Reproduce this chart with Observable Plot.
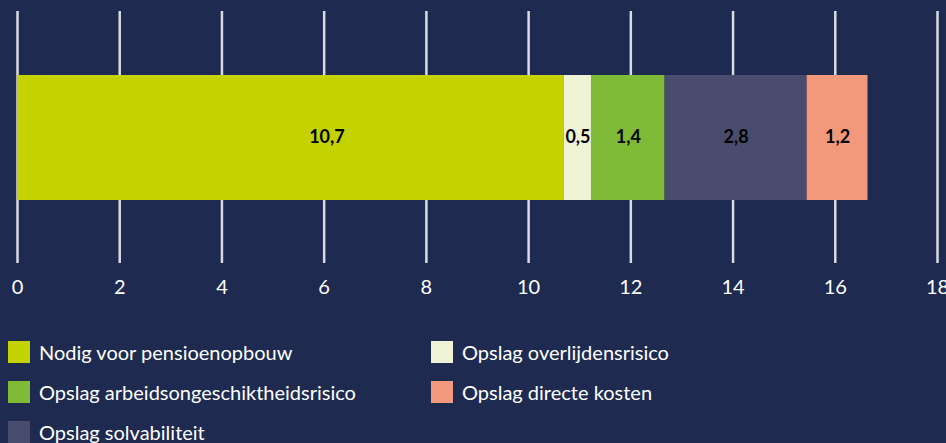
<!DOCTYPE html>
<html>
<head>
<meta charset="utf-8">
<script src="https://cdn.jsdelivr.net/npm/d3@7"></script>
<script src="https://cdn.jsdelivr.net/npm/@observablehq/plot@0.6"></script>
<style>
  html, body { margin: 0; padding: 0; background: #1e2a4f; }
  body { width: 946px; height: 443px; overflow: hidden; font-family: Lato, "Open Sans", sans-serif; }
  #legend { display: grid; grid-template-columns: 423px auto; row-gap: 18px; padding: 31px 0 0 8px; }
  .item { display: flex; align-items: center; height: 22px; color: #ffffff; font-size: 20px; white-space: nowrap; }
  .sw { width: 22px; height: 22px; margin-right: 9px; flex: none; }
</style>
</head>
<body>
<div id="chart"></div>
<div id="legend"></div>
<script>
const categories = [
  "Nodig voor pensioenopbouw",
  "Opslag overlijdensrisico",
  "Opslag arbeidsongeschiktheidsrisico",
  "Opslag solvabiliteit",
  "Opslag directe kosten"
];
const values = [10.7, 0.53, 1.44, 2.78, 1.19];
const colors = ["#c4d300", "#eff3d5", "#80bb37", "#4a4c6e", "#f2997b"];
const xTicks = [0, 2, 4, 6, 8, 10, 12, 14, 16, 18];
const legendOrder = [
  "Nodig voor pensioenopbouw",
  "Opslag overlijdensrisico",
  "Opslag arbeidsongeschiktheidsrisico",
  "Opslag directe kosten",
  "Opslag solvabiliteit"
];

const data = categories.map((c, i) => ({category: c, value: values[i], index: i}));
const fmt = v => v.toFixed(1).replace(".", ",");
const textOpts = {x: "value", text: d => fmt(d.value), fill: "#000000", fontSize: 18, fontWeight: "bold", order: null};

const plot = Plot.plot({
  width: 946,
  height: 310,
  marginLeft: 17,
  marginRight: 9,
  marginTop: 11,
  marginBottom: 47,
  style: {background: "transparent", color: "#ffffff", fontFamily: "Lato, 'Open Sans', sans-serif"},
  x: {domain: [0, 18], ticks: xTicks, label: null},
  color: {domain: categories, range: colors},
  marks: [
    Plot.ruleX(xTicks, {stroke: "#d9dae3", strokeWidth: 2.5}),
    Plot.barX(data, Plot.stackX({x: "value", fill: "category", insetTop: 64, insetBottom: 63, order: null})),
    Plot.text(data, Plot.filter(d => d.index === 0, Plot.stackX({...textOpts, dx: 36}))),
    Plot.text(data, Plot.filter(d => d.index !== 0, Plot.stackX(textOpts))),
    Plot.axisX({ticks: xTicks, tickSize: 0, tickPadding: 16, fontSize: 20, color: "#ffffff", tickFormat: d => String(d), label: null})
  ]
});
document.getElementById("chart").appendChild(plot);

const legend = document.getElementById("legend");
legendOrder.forEach(name => {
  const i = categories.indexOf(name);
  const item = document.createElement("div");
  item.className = "item";
  const sw = document.createElement("span");
  sw.className = "sw";
  sw.style.background = colors[i];
  const label = document.createElement("span");
  label.textContent = name;
  item.appendChild(sw);
  item.appendChild(label);
  legend.appendChild(item);
});
</script>
</body>
</html>
